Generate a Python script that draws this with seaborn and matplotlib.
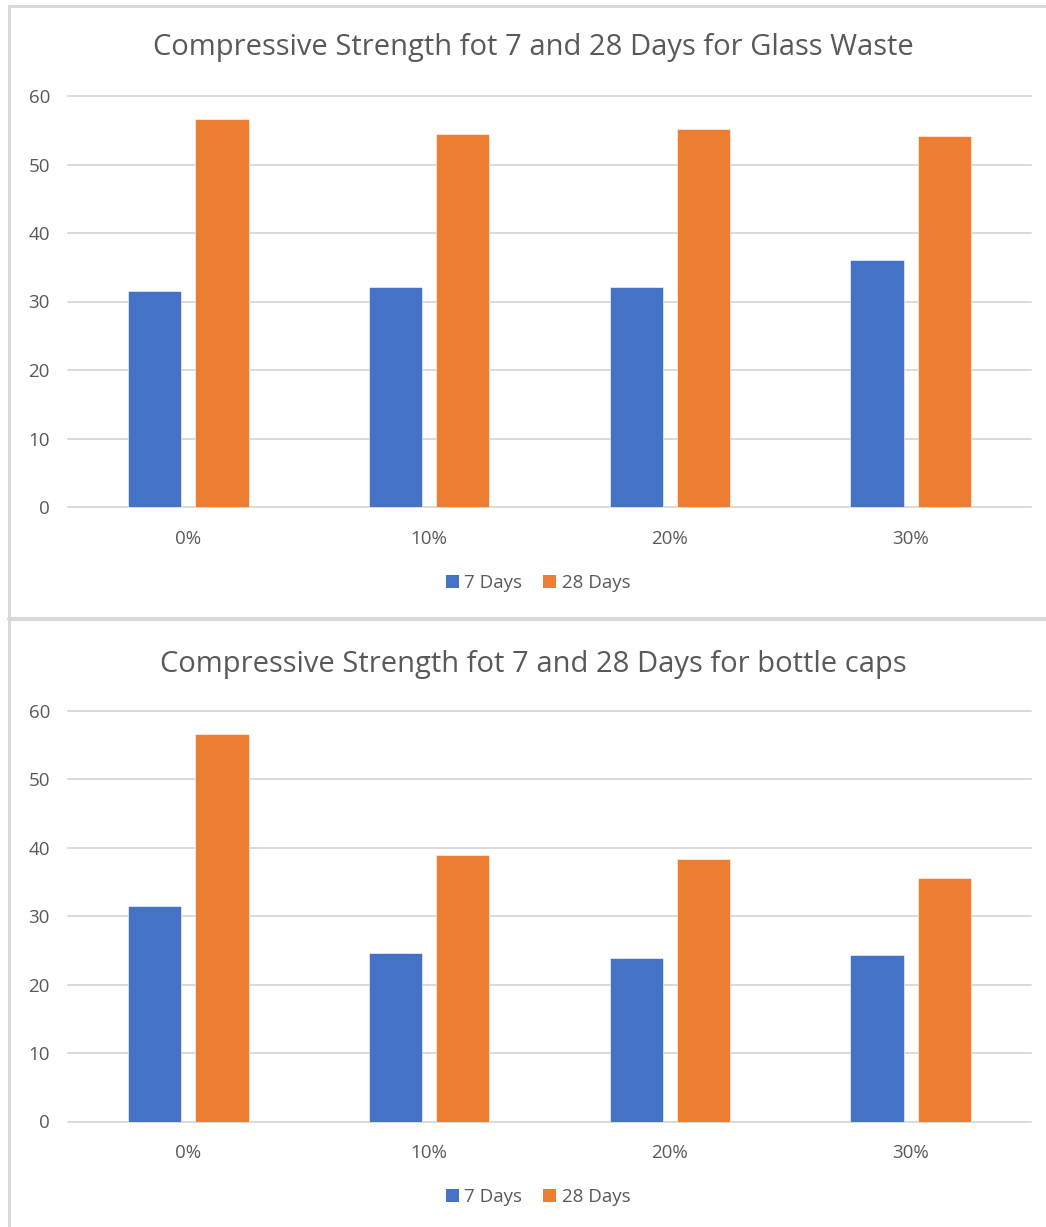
import matplotlib
matplotlib.use("Agg")
import matplotlib.pyplot as plt
from matplotlib.lines import Line2D
from matplotlib.patches import Patch
import seaborn as sns
import pandas as pd

# Replacement levels and compressive strengths (MPa)
categories = ["0%", "10%", "20%", "30%"]
series_names = ["7 Days", "28 Days"]
glass_7 = [31.6, 32.1, 32.1, 36.1]
glass_28 = [56.6, 54.5, 55.2, 54.2]
caps_7 = [31.5, 24.6, 23.9, 24.4]
caps_28 = [56.6, 38.9, 38.4, 35.6]
yticks = [0, 10, 20, 30, 40, 50, 60]
titles = [
    "Compressive Strength fot 7 and 28 Days for Glass Waste",
    "Compressive Strength fot 7 and 28 Days for bottle caps",
]

colors = {"7 Days": "#4472C4", "28 Days": "#ED7D31"}
text_gray = "#595959"
grid_gray = "#D9D9D9"

sns.set_theme(style="white")
plt.rcParams["font.family"] = ["Open Sans", "DejaVu Sans"]

W, H = 1046, 1227
fig = plt.figure(figsize=(W / 100, H / 100), dpi=100)
fig.patch.set_facecolor("white")


def long_frame(v7, v28):
    return pd.DataFrame({
        "level": categories * 2,
        "strength": list(v7) + list(v28),
        "age": [series_names[0]] * len(categories) + [series_names[1]] * len(categories),
    })


def fx(px):
    return px / W


def fy(py):
    return 1 - py / H


panels = [
    # (data7, data28, title, axis top px, axis bottom px, title y px, legend y px)
    (glass_7, glass_28, titles[0], 96, 507, 47, 583),
    (caps_7, caps_28, titles[1], 711, 1121.5, 664, 1197),
]

for v7, v28, title, top, bottom, ty, ly in panels:
    ax = fig.add_axes([fx(68), fy(bottom), fx(1031 - 68), (bottom - top) / H])
    df = long_frame(v7, v28)
    sns.barplot(data=df, x="level", y="strength", hue="age", order=categories,
                hue_order=series_names, palette=colors, width=0.56, gap=0.21,
                saturation=1, edgecolor="white", linewidth=0.4, ax=ax,
                legend=False, zorder=3)
    ax.set_ylim(0, 60)
    ax.set_xlim(-0.5, len(categories) - 0.5)
    ax.set_yticks(yticks)
    ax.set_yticklabels([str(t) for t in yticks])
    ax.set_xlabel("")
    ax.set_ylabel("")
    for s in ax.spines.values():
        s.set_visible(False)
    ax.grid(False)
    for t in yticks:
        ax.axhline(t, color=grid_gray, lw=1.4, zorder=1, clip_on=False)
    ax.tick_params(axis="both", length=0, labelsize=13.5, colors=text_gray)
    ax.tick_params(axis="y", pad=13)
    ax.tick_params(axis="x", pad=16.5)
    ax.set_facecolor("none")

    fig.text(fx(533), fy(ty), title, ha="center", va="center",
             fontsize=21, color=text_gray)

    handles = [Patch(facecolor=colors[n], edgecolor="none") for n in series_names]
    fig.legend(handles, series_names, loc="center", bbox_to_anchor=(fx(538), fy(ly)),
               ncol=2, frameon=False, fontsize=13.5, labelcolor=text_gray,
               handlelength=0.7, handleheight=0.7, handletextpad=0.3,
               columnspacing=1.1)

# panel frames
frame_kw = dict(color=grid_gray, lw=2.2, transform=fig.transFigure)
fig.add_artist(Line2D([fx(9), fx(9)], [fy(6), 0], **frame_kw))
fig.add_artist(Line2D([fx(9), 1], [fy(6), fy(6)], **frame_kw))
fig.add_artist(Line2D([fx(9), 1], [fy(619), fy(619)], color=grid_gray, lw=3,
                      transform=fig.transFigure))

fig.savefig("out.png", dpi=100, facecolor="white")
